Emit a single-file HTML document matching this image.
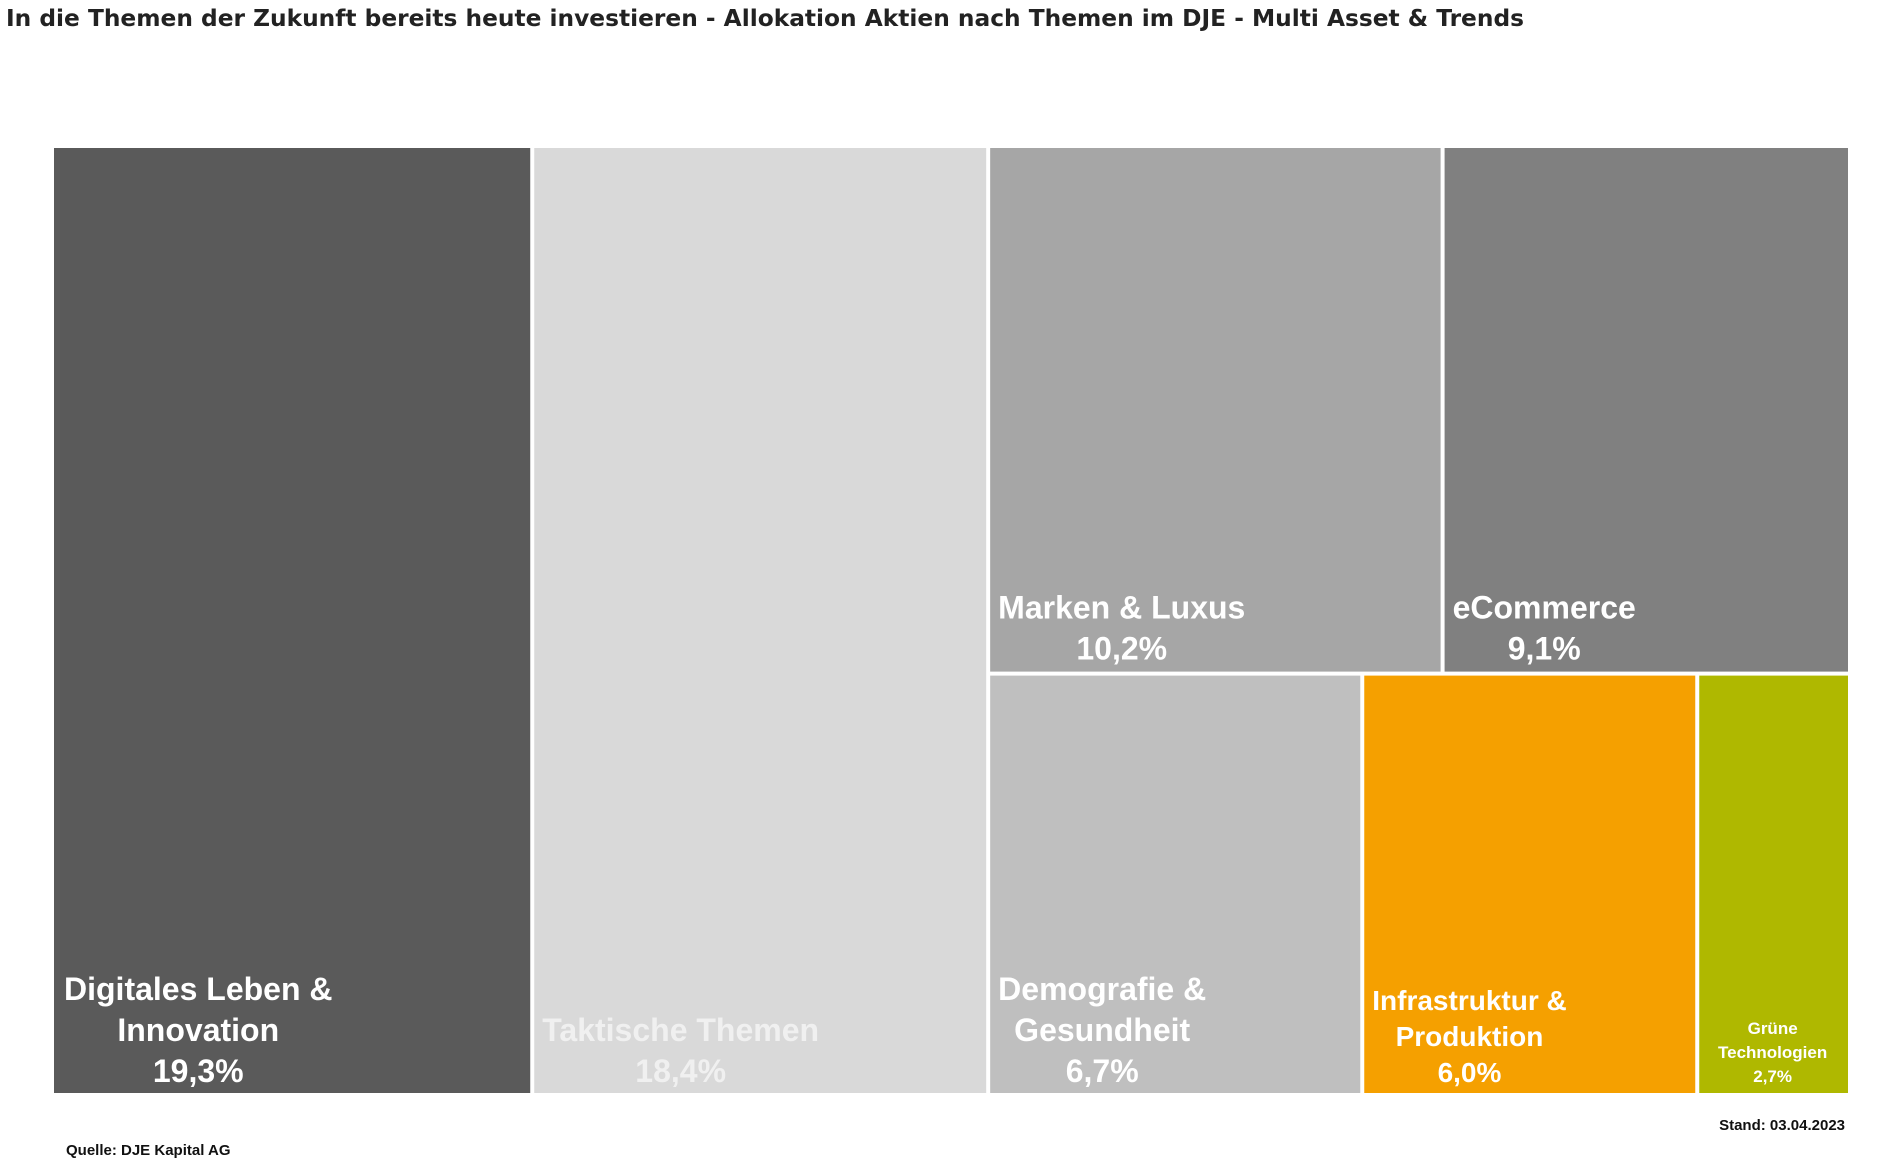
<!DOCTYPE html>
<html><head><meta charset="utf-8">
<style>
html,body{margin:0;padding:0;background:#fff;}
svg{display:block;}
</style></head>
<body>
<svg id="chart" width="1889" height="1167" viewBox="0 0 1889 1167" xmlns="http://www.w3.org/2000/svg">
<text x="6" y="26" font-family="DejaVu Sans, sans-serif" font-weight="bold" font-size="23" fill="#222" textLength="1518" lengthAdjust="spacingAndGlyphs">In die Themen der Zukunft bereits heute investieren - Allokation Aktien nach Themen im DJE - Multi Asset &amp; Trends</text>
<g id="cells"></g>
<text x="66" y="1155" font-family="Liberation Sans, sans-serif" font-weight="bold" font-size="15" fill="#111">Quelle:  DJE Kapital AG</text>
<text x="1845" y="1130" text-anchor="end" font-family="Liberation Sans, sans-serif" font-weight="bold" font-size="15" fill="#111">Stand:  03.04.2023</text>
</svg>
<script>
const categories = ["Digitales Leben & Innovation","Taktische Themen","Marken & Luxus","eCommerce","Demografie & Gesundheit","Infrastruktur & Produktion","Grüne Technologien"];
const values = [19.3, 18.4, 10.2, 9.1, 6.7, 6.0, 2.7];
const valueLabels = ["19,3%","18,4%","10,2%","9,1%","6,7%","6,0%","2,7%"];
const labelLines = [["Digitales Leben &","Innovation"],["Taktische Themen"],["Marken & Luxus"],["eCommerce"],["Demografie &","Gesundheit"],["Infrastruktur &","Produktion"],["Grüne","Technologien"]];
const colors = ["#5a5a5a","#d9d9d9","#a6a6a6","#808080","#bfbfbf","#f5a000","#afb800"];

const X0=54, X1=1848, Y0=148, Y1=1093, GAP=4;
const NS="http://www.w3.org/2000/svg";
const g=document.getElementById('cells');
const total=values.reduce((a,b)=>a+b,0);
const W=X1-X0, H=Y1-Y0;
const rects=[];
// column 0, column 1, then rest split into top row (2,3) and bottom row (4,5,6)
let x=X0;
const w0=W*values[0]/total; rects[0]={x:x,y:Y0,w:w0,h:H}; x+=w0;
const w1=W*values[1]/total; rects[1]={x:x,y:Y0,w:w1,h:H}; x+=w1;
const restW=X1-x;
const rest=values.slice(2).reduce((a,b)=>a+b,0);
const topSum=values[2]+values[3];
const topH=H*topSum/rest;
let xx=x;
for(let i=2;i<=3;i++){const w=restW*values[i]/topSum;rects[i]={x:xx,y:Y0,w:w,h:topH};xx+=w;}
const botSum=values[4]+values[5]+values[6];
xx=x;
for(let i=4;i<=6;i++){const w=restW*values[i]/botSum;rects[i]={x:xx,y:Y0+topH,w:w,h:H-topH};xx+=w;}

const fonts=[32,32,32,32,32,28,17];
const lineH=[41,41,41,41,41,36,24];
rects.forEach((r,i)=>{
  const grp=document.createElementNS(NS,'g');
  
  
  const rc=document.createElementNS(NS,'rect');
  
  
  rc.setAttribute('x',r.x+(i===0?0:GAP/2));
  rc.setAttribute('y',r.y+(r.y>Y0?GAP/2:0));
  rc.setAttribute('width',Math.max(0,r.w-(i===0?GAP/2:GAP)+(r.x+r.w>=X1-1?GAP/2:0)));
  rc.setAttribute('height',r.h-(r.y>Y0?GAP/2:0)-(r.y+r.h<Y1-1?GAP/2:0));
  rc.setAttribute('fill',colors[i]);
  grp.appendChild(rc);
  const lines=labelLines[i].concat([valueLabels[i]]);
  const t=document.createElementNS(NS,'text');
  
  
  t.setAttribute('font-family','Liberation Sans, sans-serif');
  t.setAttribute('font-weight','bold');
  t.setAttribute('font-size',fonts[i]);
  t.setAttribute('fill',i===1?'#f0f0f0':'#ffffff');
  t.setAttribute('text-anchor','middle');
  grp.appendChild(t);
  g.appendChild(grp);
  const bottom=r.y+r.h-(r.y+r.h<Y1-1?14:11);
  const spans=lines.map((ln,k)=>{
    const s=document.createElementNS(NS,'tspan');
    s.textContent=ln;
    s.setAttribute('y',bottom-(lines.length-1-k)*lineH[i]);
    t.appendChild(s);return s;});
  let maxW=0;spans.forEach(s=>{maxW=Math.max(maxW,s.getComputedTextLength());});
  let cx=r.x+10+maxW/2;
  if(i===6) cx=r.x+r.w/2;
  spans.forEach(s=>s.setAttribute('x',cx));
});
</script>
</body></html>
